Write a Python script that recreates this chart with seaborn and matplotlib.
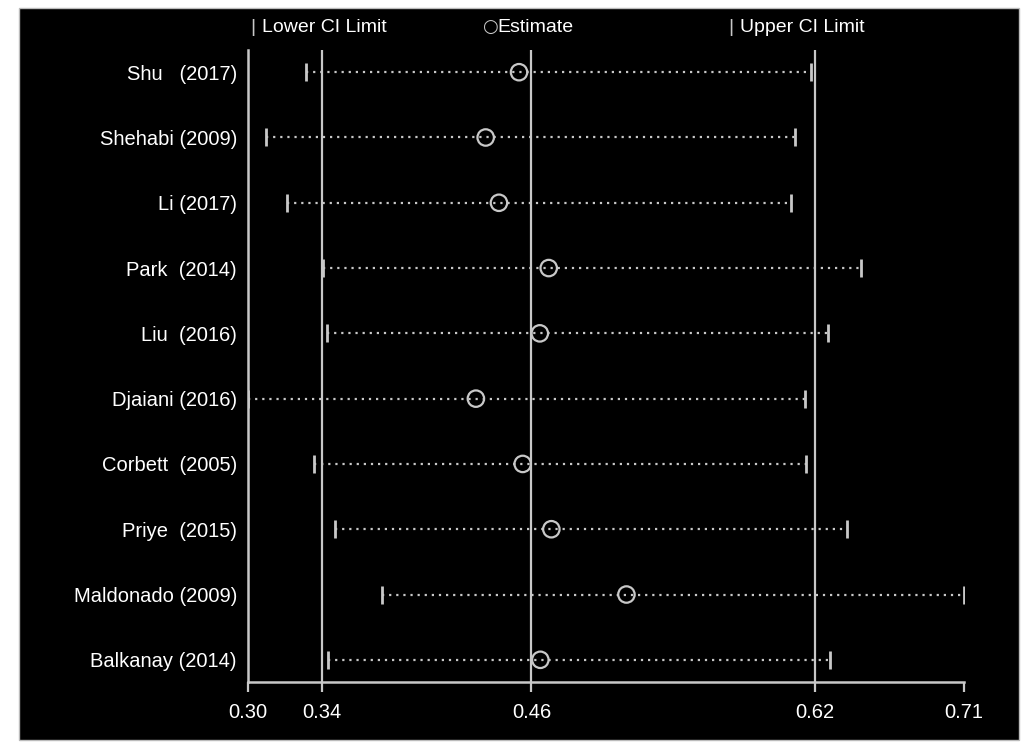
import matplotlib
matplotlib.use("Agg")
import matplotlib.pyplot as plt
import seaborn as sns
import pandas as pd
from matplotlib.patches import Rectangle

studies = ["Shu   (2017)", "Shehabi (2009)", "Li (2017)", "Park  (2014)", "Liu  (2016)",
           "Djaiani (2016)", "Corbett  (2005)", "Priye  (2015)", "Maldonado (2009)", "Balkanay (2014)"]
lower = [0.3333, 0.3103, 0.3226, 0.3428, 0.3455, 0.3000, 0.3380, 0.3499, 0.3767, 0.3457]
estimate = [0.4552, 0.4361, 0.4437, 0.4722, 0.4671, 0.4305, 0.4573, 0.4737, 0.5167, 0.4674]
upper = [0.6222, 0.6135, 0.6108, 0.6513, 0.6324, 0.6188, 0.6196, 0.6429, 0.7102, 0.6330]

# pooled values (reference lines) and axis ticks
pooled = [0.3424, 0.4623, 0.6244]
xticks = [0.30, 0.3424, 0.4623, 0.6244, 0.71]

df = pd.DataFrame({"study": studies, "lower": lower, "estimate": estimate, "upper": upper})
df["pos"] = range(len(df))

sns.set_theme(style="white")
plt.rcParams["font.family"] = ["Liberation Sans Narrow", "Liberation Sans", "DejaVu Sans"]

grey = "#c8c8c8"
fig = plt.figure(figsize=(10.25, 7.42), dpi=100, facecolor="white")
fig.patches.append(Rectangle((19 / 1025, 2 / 742), 1000 / 1025, 732 / 742,
                             transform=fig.transFigure, facecolor="black", edgecolor="#bbbbbb",
                             lw=1, zorder=-5))
ax = fig.add_axes([248 / 1025, 1 - 682 / 742, 716 / 1025, 632 / 742])
ax.set_zorder(2)
ax.patch.set_alpha(0)

for v in pooled:
    ax.axvline(v, color=grey, lw=1.6, zorder=1)

ax.hlines(df["pos"], df["lower"], df["upper"], colors=grey, linestyles=(0, (1, 2.2)), lw=1.6, zorder=2)
ax.plot(df["lower"], df["pos"], ls="none", marker="|", ms=13, mew=2, color=grey, zorder=3)
ax.plot(df["upper"], df["pos"], ls="none", marker="|", ms=13, mew=2, color=grey, zorder=3)
sns.scatterplot(data=df, x="estimate", y="pos", ax=ax, marker="o", s=140,
                facecolor="none", edgecolor=grey, linewidth=1.6, zorder=4, legend=False)

ax.set_xlim(0.30, 0.71)
ax.set_ylim(9.34, -0.34)
ax.set_yticks(df["pos"])
ax.set_yticklabels(df["study"], color="white", fontsize=14.5)
ax.set_xticks(xticks)
ax.set_xticklabels([f"{t:.2f}" for t in xticks], color="white", fontsize=14.5)
ax.tick_params(axis="y", length=0, pad=8)
ax.tick_params(axis="x", direction="out", length=7, width=1.6, color=grey, pad=8, bottom=True)
ax.set_xlabel("")
ax.set_ylabel("")

for side in ["top", "right"]:
    ax.spines[side].set_visible(False)
for side in ["left", "bottom"]:
    ax.spines[side].set_color(grey)
    ax.spines[side].set_linewidth(1.8)

# legend row along the top
ty = 1 - 27 / 742
fig.text(250 / 1025, ty, "|", color=grey, fontsize=14, va="center", ha="left")
fig.text(262 / 1025, ty, "Lower CI Limit", color="white", fontsize=14, va="center", ha="left")
fig.text(482 / 1025, ty, "\u25cb", color=grey, fontsize=13, va="center", ha="left", family="DejaVu Sans")
fig.text(497 / 1025, ty, "Estimate", color="white", fontsize=14, va="center", ha="left")
fig.text(728 / 1025, ty, "|", color=grey, fontsize=14, va="center", ha="left")
fig.text(740 / 1025, ty, "Upper CI Limit", color="white", fontsize=14, va="center", ha="left")

fig.savefig("out.png", dpi=100, facecolor=fig.get_facecolor())
